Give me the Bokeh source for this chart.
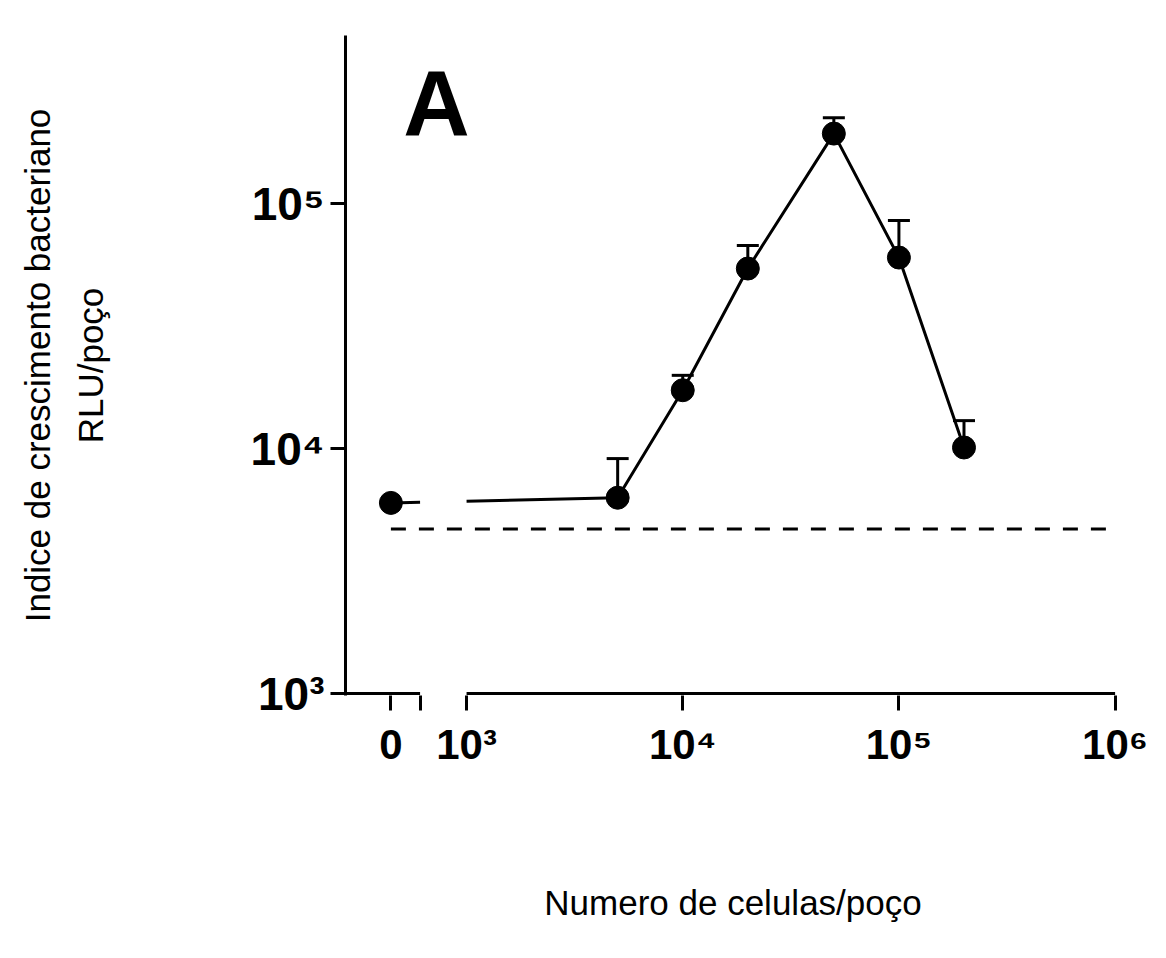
import numpy as np
from bokeh.plotting import figure
from bokeh.models import FixedTicker, Label, ColumnDataSource, Whisker, TeeHead, Range1d, Title
from bokeh.embed import file_html
from bokeh.resources import INLINE

# ---------------- data ----------------
cells = [0, 5e3, 1e4, 2e4, 5e4, 1e5, 2e5]                 # cells per well
rlu = [6000, 6300, 17300, 54300, 193000, 60200, 10100]    # RLU per well (mean)
rlu_upper = [np.nan, 9100, 19900, 67400, 224000, 85300, 13000]  # mean + error
baseline_rlu = 4700                                       # dashed reference level
baseline_cells = [0, 9.5e5]                               # extent of dashed level
x_tick_values = [0, 1e3, 1e4, 1e5, 1e6]
x_tick_labels = ["0", "10³", "10⁴", "10⁵", "10⁶"]
y_tick_values = [1e3, 1e4, 1e5]
y_tick_labels = ["10³", "10⁴", "10⁵"]
x_title = "Numero de celulas/poço"
y_title_1 = "Indice de crescimento bacteriano"
y_title_2 = "RLU/poço"
panel_label = "A"

# ---------------- broken log x axis (layout) ----------------
ZERO_POS = 2.65      # where "0" sits, left of the axis break
BREAK_LO = 2.785     # end of first axis segment
BREAK_HI = 3.0       # start of second segment (10^3)
X0, X1 = 2.44, 6.025
LY0, LY1 = 2.992, 5.686

def xpos(c):
    c = np.asarray(c, dtype=float)
    return np.where(c > 0, np.log10(np.where(c > 0, c, 1.0)), ZERO_POS)

FONT = "Liberation Sans"

W, H = 1150, 942
FR_L, FR_R, FR_T, FR_B = 345, 1120, 35, 695   # frame edges on the canvas

p = figure(width=W, height=H, x_range=Range1d(X0, X1),
           y_range=Range1d(10 ** LY0, 10 ** LY1), y_axis_type="log",
           output_backend="svg", toolbar_location=None,
           min_border_left=FR_L, min_border_right=W - FR_R,
           min_border_top=FR_T, min_border_bottom=H - FR_B)
p.outline_line_color = None
p.grid.visible = False
p.background_fill_color = "white"

# layout helpers: canvas pixel -> data coordinate (for text placement only)
def dx(px):
    return X0 + (px - FR_L) * (X1 - X0) / (FR_R - FR_L)

def dy(py):
    return 10 ** (LY1 - (py - FR_T) * (LY1 - LY0) / (FR_B - FR_T))

# x axis
xt = [float(v) for v in xpos(x_tick_values)]
p.xaxis.ticker = FixedTicker(ticks=xt + [BREAK_LO])
xo = {t: lab for t, lab in zip(xt, x_tick_labels)}
xo[BREAK_LO] = ""
p.xaxis.major_label_overrides = xo
p.xaxis.axis_line_alpha = 0
p.xaxis.major_tick_out = 15
p.xaxis.major_tick_in = 0
p.xaxis.major_tick_line_width = 3
p.xaxis.minor_tick_line_color = None
p.xaxis.major_label_standoff = 10
p.xaxis.major_label_text_font = FONT
p.xaxis.major_label_text_font_style = "bold"
p.xaxis.major_label_text_font_size = "42px"
p.xaxis.major_label_text_color = "black"
p.xaxis.axis_label = x_title
p.xaxis.axis_label_standoff = 112
p.xaxis.axis_label_text_font = FONT
p.xaxis.axis_label_text_font_style = "normal"
p.xaxis.axis_label_text_font_size = "35px"
p.xaxis.axis_label_text_color = "black"

# y axis
p.yaxis.ticker = FixedTicker(ticks=y_tick_values)
p.yaxis.major_label_overrides = {float(t): lab for t, lab in zip(y_tick_values, y_tick_labels)}
p.yaxis.axis_line_width = 3
p.yaxis.major_tick_out = 15
p.yaxis.major_tick_in = 0
p.yaxis.major_tick_line_width = 3
p.yaxis.minor_tick_line_color = None
p.yaxis.major_label_standoff = 6
p.yaxis.major_label_text_font = FONT
p.yaxis.major_label_text_font_style = "bold"
p.yaxis.major_label_text_font_size = "46px"
p.yaxis.major_label_text_color = "black"
p.yaxis.axis_label = y_title_2
p.yaxis.axis_label_standoff = 138
p.yaxis.axis_label_text_font = FONT
p.yaxis.axis_label_text_font_style = "normal"
p.yaxis.axis_label_text_font_size = "35px"
p.yaxis.axis_label_text_color = "black"

# outer line of the y title
p.add_layout(Title(text=y_title_1, align="center", standoff=22,
                   text_font=FONT, text_font_style="normal",
                   text_font_size="35px", text_color="black"), "left")

# broken x-axis line drawn as two pieces
p.segment(x0=[X0, BREAK_HI], y0=[y_tick_values[0]] * 2,
          x1=[BREAK_LO, xt[-1]], y1=[y_tick_values[0]] * 2,
          line_color="black", line_width=3)

# dashed reference level
bx = xpos(baseline_cells)
p.line(x=bx, y=[baseline_rlu] * len(bx),
       line_color="black", line_width=3, line_dash="15 13")

# data line, interrupted at the axis break
xs = xpos(cells)
ly = np.log10(rlu)
yb = 10 ** np.interp([BREAK_LO, BREAK_HI], xs[:2], ly[:2])
p.multi_line(xs=[[xs[0], BREAK_LO], [BREAK_HI] + list(xs[1:])],
             ys=[[rlu[0], yb[0]], [yb[1]] + list(rlu[1:])],
             line_color="black", line_width=3)

# error bars (upper only)
err = ColumnDataSource(dict(x=list(xs[1:]), lower=rlu[1:], upper=rlu_upper[1:]))
p.add_layout(Whisker(base="x", lower="lower", upper="upper", source=err,
                     line_color="black", line_width=3,
                     upper_head=TeeHead(size=22, line_width=3, line_color="black"),
                     lower_head=TeeHead(size=1, line_alpha=0)))

p.scatter(x=xs, y=rlu, size=23, marker="circle", fill_color="black", line_color="black")

# panel letter
p.add_layout(Label(x=dx(436), y=dy(102), text=panel_label, text_align="center",
                   text_baseline="middle", text_font=FONT, text_font_style="bold",
                   text_font_size="92px", text_color="black"))

open("out.html", "w").write(file_html(p, INLINE))
